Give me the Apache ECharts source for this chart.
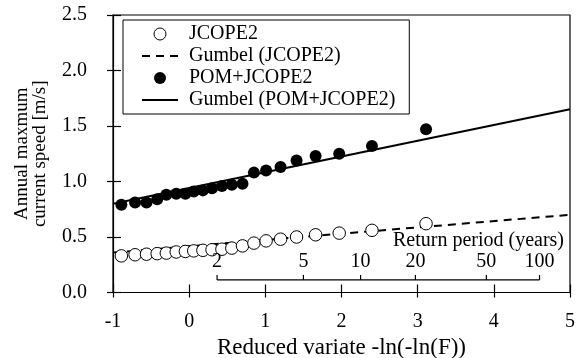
<!DOCTYPE html>
<html>
<head>
<meta charset="utf-8">
<script src="https://cdn.jsdelivr.net/npm/echarts@6/dist/echarts.min.js"></script>
<style>
  html, body { margin: 0; padding: 0; background: #fff; }
  #chart { width: 577px; height: 358px; }
</style>
</head>
<body>
<div id="chart"></div>
<script>
// reduced variate of each plotted year (same positions for both data sets)
var reducedVariate = [-0.89, -0.71, -0.56, -0.42, -0.30, -0.17, -0.05, 0.06, 0.18, 0.30, 0.43,
    0.56, 0.70, 0.85, 1.01, 1.20, 1.41, 1.66, 1.97, 2.40, 3.11];
var jcope2 = [0.33, 0.34, 0.345, 0.35, 0.355, 0.365, 0.37, 0.375, 0.38, 0.385, 0.39,
    0.40, 0.42, 0.445, 0.465, 0.48, 0.50, 0.52, 0.535, 0.56, 0.62];
var pomJcope2 = [0.79, 0.81, 0.81, 0.84, 0.88, 0.89, 0.89, 0.91, 0.92, 0.94, 0.96,
    0.97, 0.98, 1.08, 1.10, 1.13, 1.19, 1.23, 1.25, 1.32, 1.47];
// fitted Gumbel lines, ends at x = -1 and x = 5
var gumbelX = [-1, 5];
var gumbelJcope2 = [0.36, 0.70];
var gumbelPom = [0.80, 1.65];
// secondary axis
var returnPeriods = [2, 5, 10, 20, 50, 100];
var returnAxisY = 0.113;

var FONT = '"Liberation Serif", "Times New Roman", serif';

function zip(xs, ys) {
    var out = [];
    for (var i = 0; i < xs.length; i++) {
        out.push([xs[i], ys[i]]);
    }
    return out;
}

// return period -> reduced variate
function periodToVariate(T) {
    return -Math.log(-Math.log(1 - 1 / T));
}

var returnData = returnPeriods.map(function (T) {
    return [periodToVariate(T), returnAxisY, T];
});

function renderReturnAxis(params, api) {
    var p = api.coord([api.value(0), api.value(1)]);
    var children = [
        { type: 'line', shape: { x1: p[0], y1: p[1], x2: p[0], y2: p[1] - 5 },
          style: { stroke: '#000', lineWidth: 1.2 } },
        { type: 'text', style: { text: String(api.value(2)), x: p[0], y: p[1] - 18,
          font: '20px ' + FONT, fill: '#000', align: 'center', verticalAlign: 'middle' } }
    ];
    if (params.dataIndex === 0) {
        var last = returnData[returnData.length - 1];
        var q = api.coord([last[0], last[1]]);
        children.push({ type: 'line', shape: { x1: p[0], y1: p[1], x2: q[0], y2: q[1] },
            style: { stroke: '#000', lineWidth: 1.2 } });
    }
    return { type: 'group', children: children };
}

var tickStyle = { color: '#000', width: 1.2 };
var noIconDot = { opacity: 0 };

var option = {
    animation: false,
    backgroundColor: '#fff',
    grid: { left: 113, top: 15, width: 457, height: 277.5, show: true,
        outerBoundsMode: 'none', containLabel: false,
        borderColor: '#000', borderWidth: 1.2 },
    legend: {
        orient: 'vertical', left: 123, top: 20,
        itemWidth: 36, itemHeight: 12, itemGap: 2,
        padding: [4, 14, 4, 18],
        borderColor: '#000', borderWidth: 1,
        textStyle: { fontFamily: FONT, fontSize: 20, color: '#000', padding: [0, 0, 0, 6] },
        data: [
            { name: 'JCOPE2', icon: 'circle',
              itemStyle: { color: '#fff', borderColor: '#000', borderWidth: 1 } },
            { name: 'Gumbel (JCOPE2)', itemStyle: noIconDot },
            { name: 'POM+JCOPE2', icon: 'circle', itemStyle: { color: '#000' } },
            { name: 'Gumbel (POM+JCOPE2)', itemStyle: noIconDot }
        ]
    },
    xAxis: [{
        type: 'value', min: -1, max: 5, interval: 1,
        name: 'Reduced variate -ln(-ln(F))', nameLocation: 'middle', nameGap: 36,
        nameTextStyle: { fontFamily: FONT, fontSize: 23, color: '#000' },
        axisLine: { onZero: false, lineStyle: tickStyle },
        axisTick: { inside: false, length: 5, lineStyle: tickStyle },
        axisLabel: { fontFamily: FONT, fontSize: 20, color: '#000', margin: 19 },
        splitLine: { show: false }
    }, {
        type: 'value', min: -1, max: 5, interval: 1, position: 'bottom',
        axisLine: { show: false, onZero: false },
        axisTick: { inside: true, length: 8, lineStyle: tickStyle },
        axisLabel: { show: false },
        splitLine: { show: false }
    }],
    yAxis: [{
        type: 'value', min: 0, max: 2.5, interval: 0.5,
        name: 'Annual maxmum\ncurrent speed [m/s]', nameLocation: 'middle', nameGap: 64,
        nameRotate: 90,
        nameTextStyle: { fontFamily: FONT, fontSize: 19, color: '#000', lineHeight: 18 },
        axisLine: { onZero: false, lineStyle: tickStyle },
        axisTick: { inside: false, length: 6, lineStyle: tickStyle },
        axisLabel: { fontFamily: FONT, fontSize: 20, color: '#000', margin: 26,
            formatter: function (v) { return v.toFixed(1); } },
        splitLine: { show: false }
    }, {
        type: 'value', min: 0, max: 2.5, interval: 0.5, position: 'left',
        axisLine: { show: false, onZero: false },
        axisTick: { inside: true, length: 8, lineStyle: tickStyle },
        axisLabel: { show: false },
        splitLine: { show: false }
    }],
    graphic: [{
        type: 'text', right: 13, top: 231, z: 10,
        style: { text: 'Return period (years)', font: '20px ' + FONT, fill: '#000' }
    }],
    series: [{
        name: 'JCOPE2', type: 'scatter', z: 4,
        symbol: 'circle', symbolSize: 12.5,
        itemStyle: { color: '#fff', borderColor: '#000', borderWidth: 1, opacity: 1 },
        data: zip(reducedVariate, jcope2)
    }, {
        name: 'Gumbel (JCOPE2)', type: 'line', z: 2, symbol: 'none',
        lineStyle: { color: '#000', width: 2, type: [8, 6] },
        itemStyle: { color: '#000' },
        data: zip(gumbelX, gumbelJcope2)
    }, {
        name: 'POM+JCOPE2', type: 'scatter', z: 4,
        symbol: 'circle', symbolSize: 12,
        itemStyle: { color: '#000', opacity: 1 },
        data: zip(reducedVariate, pomJcope2)
    }, {
        name: 'Gumbel (POM+JCOPE2)', type: 'line', z: 2, symbol: 'none',
        lineStyle: { color: '#000', width: 2 },
        itemStyle: { color: '#000' },
        data: zip(gumbelX, gumbelPom)
    }, {
        type: 'custom', z: 6, silent: true,
        renderItem: renderReturnAxis,
        data: returnData
    }]
};

var chart = echarts.init(document.getElementById('chart'), null, { renderer: 'canvas' });
chart.setOption(option);
</script>
</body>
</html>
